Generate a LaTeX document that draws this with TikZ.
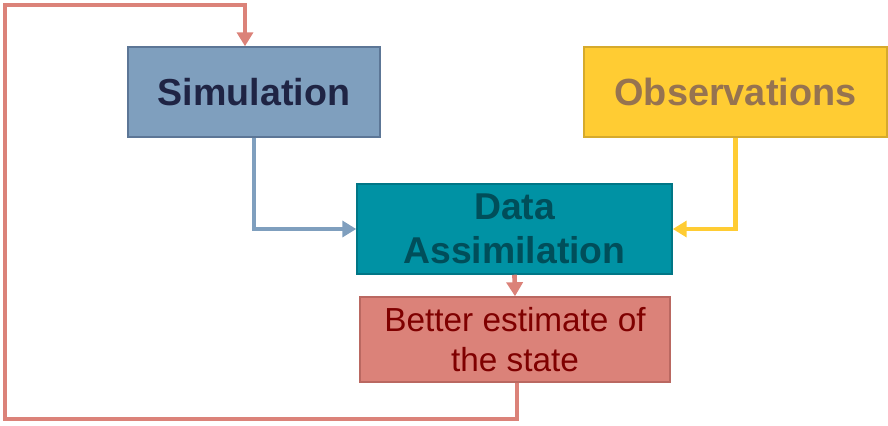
\documentclass[tikz,border=0pt]{standalone}
\usepackage{fontspec}
\setmainfont{Liberation Sans}
\usepackage{tikz}
\usetikzlibrary{
  positioning,
  arrows.meta
}
\definecolor{simfill}{RGB}{127,159,190}
\definecolor{simdraw}{RGB}{92,118,150}
\definecolor{simtext}{RGB}{31,36,68}
\definecolor{obsfill}{RGB}{255,204,51}
\definecolor{obsdraw}{RGB}{214,170,44}
\definecolor{obstext}{RGB}{150,115,80}
\definecolor{dafill}{RGB}{0,146,164}
\definecolor{dadraw}{RGB}{0,118,134}
\definecolor{datext}{RGB}{0,78,90}
\definecolor{estfill}{RGB}{219,130,121}
\definecolor{estdraw}{RGB}{186,104,97}
\definecolor{esttext}{RGB}{127,0,0}
\tikzset{every picture/.style={line width=0.75pt}}
\tikzset{
  box/.style={rectangle, inner sep=0pt, line width=1.1pt, align=center},
  flow/.style={line width=3.5pt, -{Triangle[width=12pt,length=10.5pt]}}
}

\begin{document}
\begin{tikzpicture}[x=0.75pt,y=0.75pt,yscale=-1,xscale=1]
\useasboundingbox (0,0) rectangle (888,425);

% Boxes
\node [box, fill=simfill, draw=simdraw, minimum width=252*0.75pt, minimum height=90*0.75pt,
  font=\fontsize{28.2pt}{32pt}\selectfont\bfseries, text=simtext] (sim) at (254,92) {Simulation};
\node [box, fill=obsfill, draw=obsdraw, minimum width=303*0.75pt, minimum height=90*0.75pt,
  font=\fontsize{28.4pt}{32pt}\selectfont\bfseries, text=obstext] (obs) at (735.5,92) {Observations};
\node [box, fill=dafill, draw=dadraw, minimum width=315*0.75pt, minimum height=90*0.75pt,
  font=\fontsize{28pt}{33pt}\selectfont\bfseries, text=datext] (da) at (514.5,229) {Data\\Assimilation};
\node [box, fill=estfill, draw=estdraw, minimum width=310*0.75pt, minimum height=85*0.75pt,
  font=\fontsize{25pt}{29.5pt}\selectfont, text=esttext] (est) at (515,339.5) {Better estimate of\\the state};

% Loop corners
\coordinate (c1) at (517,419);
\coordinate (c2) at (5,419);
\coordinate (c3) at (5,5);
\coordinate (c4) at (245,5);

% Connectors
\draw [flow, simfill] (sim.south) |- (da.west);
\draw [flow, obsfill] (obs.south) |- (da.east);
\draw [flow, estfill] (da.south) -- (est.north);
\draw [flow, estfill] (est.south -| c1) -- (c1) -- (c2) -- (c3) -- (c4) -- (sim.north -| c4);

\end{tikzpicture}
\end{document}
